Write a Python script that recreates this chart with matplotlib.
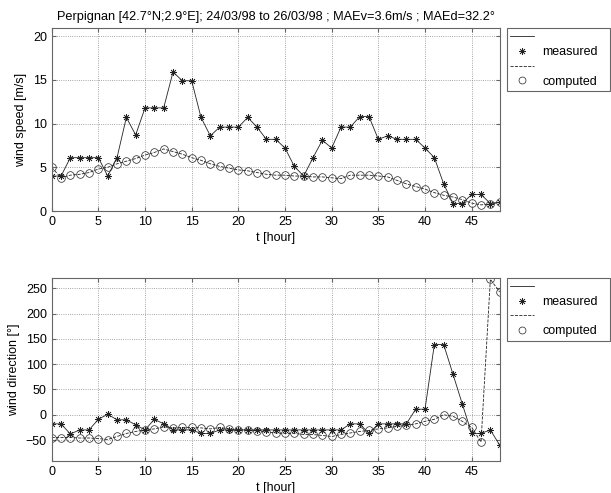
import numpy as np
from matplotlib import pyplot as plt
from matplotlib.lines import Line2D

plt.rcParams['font.family'] = ['Liberation Sans', 'DejaVu Sans']
plt.rcParams['font.size'] = 9

t = np.arange(0, 49)

speed_meas = [4.0, 4.0, 6.1, 6.1, 6.1, 6.1, 4.0, 6.1, 10.7, 8.7,
              11.8, 11.8, 11.8, 15.9, 14.9, 14.9, 10.7, 8.6, 9.6, 9.6,
              9.6, 10.7, 9.6, 8.2, 8.2, 7.2, 5.1, 4.0, 6.1, 8.1,
              7.2, 9.6, 9.6, 10.8, 10.8, 8.2, 8.6, 8.2, 8.2, 8.2,
              7.2, 6.1, 3.1, 0.85, 0.85, 1.9, 1.9, 0.85, 1.0]
speed_comp = [5.0, 3.8, 4.1, 4.2, 4.4, 4.8, 5.0, 5.4, 5.7, 6.0,
              6.4, 6.7, 7.1, 6.8, 6.5, 6.1, 5.8, 5.4, 5.1, 4.9,
              4.7, 4.6, 4.4, 4.2, 4.1, 4.1, 4.0, 4.0, 3.9, 3.9,
              3.8, 3.7, 4.1, 4.1, 4.1, 4.0, 3.9, 3.5, 3.1, 2.8,
              2.5, 2.1, 1.8, 1.6, 1.3, 0.9, 0.7, 0.8, 1.0]

dir_meas = [-18, -18, -38, -30, -30, -9, 1, -10, -10, -20,
            -30, -9, -18, -30, -30, -30, -37, -37, -30, -30,
            -30, -30, -30, -30, -30, -30, -30, -30, -30, -30,
            -30, -30, -18, -18, -37, -18, -18, -18, -18, 11,
            11, 139, 139, 80, 21, -37, -37, -30, -60]
dir_comp = [-45, -45, -45, -46, -46, -47, -49, -43, -37, -33,
            -30, -28, -24, -26, -25, -25, -26, -28, -25, -28,
            -30, -30, -32, -34, -36, -37, -37, -39, -39, -41,
            -43, -39, -36, -33, -31, -28, -26, -23, -21, -18,
            -13, -9, 0, -3, -13, -25, -54, 268, 243]

title = 'Perpignan [42.7°N;2.9°E]; 24/03/98 to 26/03/98 ; MAEv=3.6m/s ; MAEd=32.2°'

fig = plt.figure(figsize=(6.11, 4.93), dpi=100)
ax1 = fig.add_axes([0.0846, 0.572, 0.7332, 0.3706])
ax2 = fig.add_axes([0.0846, 0.0649, 0.7332, 0.3706])

star = (8, 2, 0)  # asterisk like matlab '*'
lc = '#222222'


def draw(ax, meas, comp):
    ax.plot(t, meas, '-', color=lc, lw=0.6)
    ax.plot(t, meas, ls='none', color=lc, marker=star, ms=5, mew=0.5)
    ax.plot(t, comp, '--', color=lc, lw=0.6)
    ax.plot(t, comp, 'o', color=lc, ms=5.5, mfc='none', mew=0.5)
    ax.set_xlim(0, 48)
    ax.set_xticks(range(0, 50, 5))
    ax.grid(True, ls=':', color='#888888', lw=0.6)
    ax.tick_params(direction='in', top=True, right=True, length=3, color='#666666')
    for s in ax.spines.values():
        s.set_color('#666666')
        s.set_linewidth(0.8)
    ax.set_xlabel('t [hour]', labelpad=3)


draw(ax1, speed_meas, speed_comp)
ax1.set_ylim(0, 20.9)
ax1.set_yticks(range(0, 21, 5))
ax1.set_ylabel('wind speed [m/s]')
ax1.set_title(title, fontsize=9.2, pad=6)

draw(ax2, dir_meas, dir_comp)
ax2.set_ylim(-91.5, 270)
ax2.set_yticks(range(-50, 251, 50))
ax2.set_ylabel('wind direction [°]')

handles = [Line2D([], [], color=lc, ls='-', lw=0.6),
           Line2D([], [], color=lc, ls='none', marker=star, ms=5, mew=0.5),
           Line2D([], [], color=lc, ls='--', lw=0.6),
           Line2D([], [], color=lc, ls='none', marker='o', ms=5, mfc='none', mew=0.5)]
labels = [' ', 'measured', ' ', 'computed']
for ax, y in [(ax1, 0.9426), (ax2, 0.4361)]:
    leg = ax.legend(handles, labels, loc='upper left',
                    bbox_to_anchor=(0.8293, y - 0.13, 0.1686, 0.13),
                    bbox_transform=fig.transFigure, mode='expand',
                    fancybox=False, framealpha=1, edgecolor='#666666',
                    handlelength=1.9, labelspacing=0.22, borderpad=0.25,
                    handletextpad=0.7, borderaxespad=0)
    leg.get_frame().set_linewidth(0.8)

plt.savefig('out.png', dpi=100)
